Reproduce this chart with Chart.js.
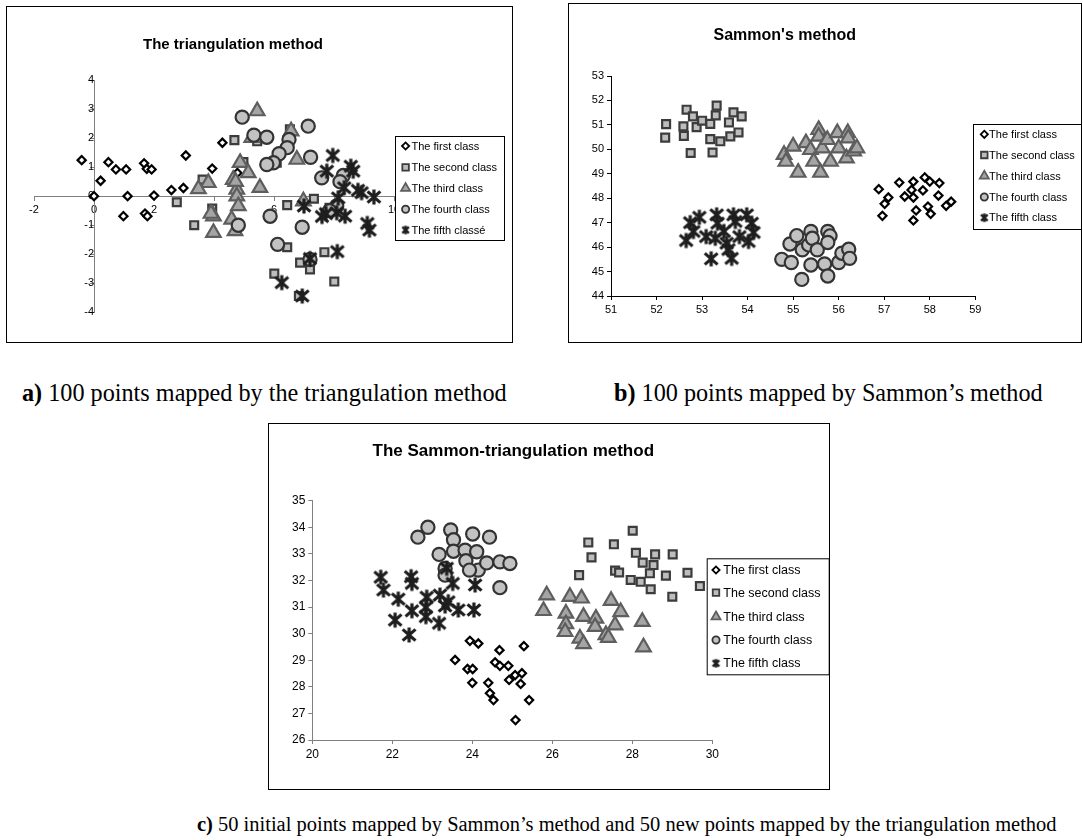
<!DOCTYPE html>
<html>
<head>
<meta charset="utf-8">
<script src="https://cdn.jsdelivr.net/npm/chart.js@4/dist/chart.umd.min.js"></script>
<style>
  body { margin: 0; background: #fff; width: 1083px; height: 840px; position: relative; overflow: hidden; }
  canvas { position: absolute; }
  .frame { position: absolute; border: 1px solid #000; box-sizing: border-box; pointer-events: none; }
  .cap { position: absolute; white-space: nowrap; line-height: 1; color: #000;
         font-family: "Liberation Serif", "Times New Roman", serif; }
</style>
</head>
<body>
<canvas id="ca" width="507" height="337" style="left:6px;top:6px"></canvas>
<div class="frame" style="left:6px;top:6px;width:507px;height:337px"></div>
<canvas id="cb" width="513" height="340" style="left:568px;top:3px"></canvas>
<div class="frame" style="left:568px;top:3px;width:514px;height:340px"></div>
<canvas id="cc" width="561" height="366" style="left:268px;top:423px"></canvas>
<div class="frame" style="left:268px;top:423px;width:562px;height:367px"></div>

<div class="cap" id="capA"><b>a)</b> 100 points mapped by the triangulation method</div>
<div class="cap" id="capB"><b>b)</b> 100 points mapped by Sammon’s method</div>
<div class="cap" id="capC"><b>c)</b> 50 initial points mapped by Sammon’s method and 50 new points mapped by the triangulation method</div>

<script>
// ---- data ----
const classNames = ["The first class", "The second class", "The third class", "The fourth class", "The fifth class"];
const triNames = ["The first class", "The second class", "The third class", "The fourth class", "The fifth classé"];

// a) triangulation method
const triFirst = [[-0.41,1.24],[0,0],[0.22,0.53],[0.48,1.17],[0.73,0.92],[1.07,0.92],[1.12,0],[0.98,-0.69],
  [1.67,1.13],[1.76,0.94],[1.92,0.92],[2.0,0.02],[1.7,-0.6],[1.78,-0.69],[2.58,0.21],[2.98,0.28],
  [3.06,1.4],[3.94,0.95],[4.28,1.84],[4.78,0.8]];
const triSecond = [[4.68,1.93],[5.44,1.89],[4.98,1.17],[6.09,1.15],[6.53,2.3],[3.62,0.57],[2.76,-0.21],
  [3.34,-1.0],[3.94,-0.43],[6.44,-0.31],[7.33,-0.09],[6.44,-1.76],[6.87,-2.29],[7.2,-2.52],[7.68,-1.93],
  [6.01,-2.67],[8.01,-2.94],[6.83,-3.44],[7.85,-0.4]];
const triThird = [[5.44,2.93],[5.26,2.01],[6.57,2.24],[6.76,1.26],[4.87,1.15],[5.14,0.8],[4.64,0.57],
  [3.81,0.46],[3.48,0.25],[5.53,0.29],[4.76,0.23],[4.76,0],[4.81,-0.34],[3.98,-0.69],[3.98,-1.26],
  [4.59,-0.8],[4.7,-1.2],[6.98,-0.17],[3.9,-0.6],[4.72,0.5]];
const triFourth = [[4.94,2.72],[5.33,2.1],[5.76,2.03],[7.14,2.41],[6.5,1.95],[6.44,1.67],[6.17,1.46],
  [5.98,1.15],[5.76,1.09],[7.22,1.34],[7.59,0.63],[8.31,0.71],[5.87,-0.69],[6.94,-1.07],[4.81,-1.0],
  [6.12,-1.66],[7.2,-2.18],[8.09,-0.34],[7.85,-0.5],[8.2,0.5]];
const triFifth = [[7.96,1.4],[7.76,0.86],[8.56,1.03],[8.64,0.86],[8.34,0.29],[8.92,0.12],[9.33,-0.03],
  [8.14,-0.06],[7.0,-0.34],[7.73,-0.6],[8.09,-0.57],[8.37,-0.69],[9.11,-0.94],[9.18,-1.17],[8.11,-1.91],
  [7.2,-2.15],[6.26,-2.98],[6.94,-3.44],[8.8,0.2],[7.6,-0.7]];

// b) Sammon's method
const samFirst = [[56.88,48.37],[57.09,48.03],[57.01,47.77],[56.96,47.28],[57.33,48.64],[57.45,48.07],
  [57.64,48.68],[57.6,48.34],[57.64,48.03],[57.7,47.5],[57.64,47.09],[57.85,48.32],[57.89,48.85],
  [58.0,48.68],[57.96,47.66],[58.02,47.36],[58.21,48.62],[58.19,48.11],[58.36,47.69],[58.47,47.86]];
const samSecond = [[52.21,51.03],[52.19,50.48],[52.66,51.62],[52.8,51.35],[52.59,50.94],[52.6,50.55],
  [52.88,50.91],[53.0,51.17],[53.18,51.04],[53.3,51.39],[53.32,51.79],[53.18,50.42],[53.4,50.33],
  [53.62,50.53],[53.59,51.1],[53.69,51.51],[53.87,51.35],[53.8,50.69],[52.75,49.85],[53.23,49.87]];
const samThird = [[54.8,49.78],[54.84,49.5],[55.0,50.12],[55.11,49.05],[55.28,50.26],[55.38,49.98],
  [55.45,49.5],[55.56,50.8],[55.56,50.53],[55.64,50.05],[55.6,49.05],[55.75,50.39],[55.82,49.5],
  [55.97,50.67],[56.0,50.05],[56.2,50.67],[56.21,50.46],[56.17,49.64],[56.33,49.92],[56.4,50.05]];
const samFourth = [[54.75,45.5],[54.96,45.37],[54.93,46.13],[55.08,46.47],[55.2,45.89],[55.34,46.09],
  [55.39,46.64],[55.42,46.36],[55.53,45.89],[55.39,45.27],[55.19,44.68],[55.76,46.64],[55.81,46.46],
  [55.76,46.19],[55.69,45.31],[55.76,44.82],[56.0,45.37],[56.07,45.75],[56.22,45.91],[56.24,45.54]];
const samFifth = [[52.65,46.27],[52.74,47.0],[52.94,47.22],[52.81,46.64],[53.09,46.43],[53.2,45.52],
  [53.32,47.32],[53.34,46.98],[53.29,46.36],[53.48,46.64],[53.54,46.16],[53.69,47.32],[53.73,47.05],
  [53.65,45.54],[53.82,46.43],[53.98,47.32],[54.09,46.98],[54.13,46.6],[54.02,46.23],[53.58,45.9]];

// c) Sammon-triangulation method
const mixFirst = [[23.57,29.01],[23.94,29.73],[24.15,29.63],[23.88,28.67],[24.01,28.67],[24.0,28.15],
  [24.4,28.15],[24.68,29.38],[24.57,28.92],[24.69,28.79],[24.9,28.79],[24.44,27.76],[24.53,27.5],
  [24.92,28.26],[25.29,29.53],[25.07,28.44],[25.24,28.51],[25.21,28.11],[25.42,27.5],[25.08,26.75]];
const mixSecond = [[26.67,32.2],[26.9,33.43],[26.98,32.87],[27.54,33.36],[27.57,32.37],[27.67,32.3],
  [28.01,33.87],[28.09,33.04],[28.26,32.67],[28.57,32.98],[28.53,32.58],[28.44,32.27],[27.96,32.02],
  [28.21,31.95],[28.46,31.67],[29.01,32.98],[28.84,32.18],[29.0,31.39],[29.38,32.29],[29.69,31.79]];
const mixThird = [[25.86,31.45],[25.78,30.86],[26.44,31.39],[26.73,31.33],[26.34,30.76],[26.34,30.36],
  [26.32,30.07],[26.78,30.64],[26.69,29.82],[26.78,29.61],[27.09,30.57],[27.07,30.26],[27.47,31.24],
  [27.71,30.82],[27.57,30.32],[27.34,29.95],[27.4,29.85],[28.25,30.45],[28.28,29.49]];
const mixFourth = [[22.64,33.63],[22.89,34.0],[23.46,33.9],[23.53,33.53],[24.01,33.75],[24.43,33.63],
  [23.17,32.98],[23.53,33.1],[23.82,33.14],[24.11,33.08],[23.84,32.74],[24.15,32.39],[24.36,32.66],
  [24.69,32.7],[24.94,32.64],[23.32,32.45],[23.32,32.2],[23.93,32.39],[24.69,31.73]];
const mixFifth = [[21.71,32.12],[21.78,31.64],[22.15,31.3],[22.47,32.14],[22.49,31.89],[22.07,30.51],
  [22.42,29.95],[22.49,30.86],[22.86,31.37],[22.84,30.99],[22.84,30.64],[23.19,31.45],[23.17,30.39],
  [23.32,31.04],[23.36,32.46],[23.4,31.2],[23.51,31.89],[23.65,30.89],[24.04,30.89],[24.07,31.83]];

// ---- styles ----
Chart.defaults.font.family = "'Liberation Sans', Arial, sans-serif";
Chart.defaults.color = '#000';

// Excel-like star marker: an X with a vertical bar
function makeStar(size, lw) {
  const c = document.createElement('canvas');
  c.width = size; c.height = size;
  const g = c.getContext('2d');
  const m = lw / 2, mid = size / 2, k = size * 0.1;
  g.strokeStyle = '#1e1e1e'; g.lineWidth = lw;
  g.beginPath();
  g.moveTo(mid, m); g.lineTo(mid, size - m);
  g.moveTo(m + 1, m + k); g.lineTo(size - m - 1, size - m - k);
  g.moveTo(m + 1, size - m - k); g.lineTo(size - m - 1, m + k);
  g.stroke();
  return c;
}
const starBig = makeStar(18, 3.2);
const starSmall = makeStar(11, 2.4);

const marks = [
  { style: 'rectRot', r: 4.1, bg: '#ffffff', bd: '#000000', lw: 2.2, lr: 3.6 },
  { style: 'rect', r: 5.6, bg: '#bdbdbd', bd: '#3c3c3c', lw: 2.2, lr: 4.6 },
  { style: 'triangle', r: 8.4, bg: '#a5a5a5', bd: '#5e5e5e', lw: 2.2, lr: 5.2 },
  { style: 'circle', r: 6.6, bg: '#c2c2c2', bd: '#333333', lw: 2.2, lr: 3.6 },
  { style: starBig, r: 8, bg: '#222', bd: '#222', lw: 0, lr: 5, small: starSmall }
];

function makeDatasets(series, names) {
  return series.map((pts, i) => ({
    label: names[i],
    data: pts.map(p => ({ x: p[0], y: p[1] })),
    pointStyle: marks[i].style,
    pointRadius: marks[i].r,
    pointBackgroundColor: marks[i].bg,
    pointBorderColor: marks[i].bd,
    pointBorderWidth: marks[i].lw,
    order: 5 - i
  }));
}

// title + boxed legend drawn on the chart canvas
function decor(cfg) {
  return {
    id: 'decor',
    afterDraw(chart) {
      const ctx = chart.ctx;
      ctx.save();
      ctx.fillStyle = '#000';
      ctx.font = 'bold ' + cfg.titleSize + "px 'Liberation Sans', Arial, sans-serif";
      ctx.textAlign = 'center';
      ctx.textBaseline = 'middle';
      ctx.fillText(cfg.title, cfg.titleX, cfg.titleY);

      const L = cfg.legend;
      ctx.fillStyle = '#fff';
      ctx.fillRect(L.x, L.y, L.w, L.h);
      ctx.strokeStyle = '#000';
      ctx.lineWidth = 1;
      ctx.strokeRect(L.x + 0.5, L.y + 0.5, L.w - 1, L.h - 1);
      ctx.font = L.size + "px 'Liberation Sans', Arial, sans-serif";
      ctx.textAlign = 'left';
      cfg.names.forEach((name, i) => {
        const y = L.rows[i];
        const mk = marks[i];
        ctx.fillStyle = mk.bg;
        ctx.strokeStyle = mk.bd;
        ctx.lineWidth = 1.8;
        Chart.helpers.drawPoint(ctx, {
          pointStyle: mk.small || mk.style, radius: mk.lr, rotation: 0, borderWidth: mk.lw ? 1.8 : 0
        }, L.mx, y);
        ctx.fillStyle = '#000';
        ctx.fillText(name, L.tx, y + 0.5);
      });
      ctx.restore();
    }
  };
}

function axis(opts) {
  return Object.assign({
    type: 'linear',
    ticks: { color: '#000', font: { size: opts.fs }, padding: 3, stepSize: opts.step },
    grid: { drawOnChartArea: false, drawTicks: true, tickLength: 4, color: opts.col },
    border: { display: true, color: opts.col, width: 1 }
  }, opts.extra);
}

const common = {
  responsive: false,
  animation: false,
  events: [],
  plugins: { legend: { display: false }, tooltip: { enabled: false } }
};

// a) axes cross at the origin
new Chart(document.getElementById('ca'), {
  type: 'scatter',
  data: { datasets: makeDatasets([triFirst, triSecond, triThird, triFourth, triFifth], triNames) },
  options: Object.assign({}, common, {
    layout: { padding: { left: 28, right: 119, top: 74, bottom: 30.7 } },
    scales: {
      x: axis({ fs: 11, step: 2, col: '#808080', extra: { position: { y: 0 }, min: -2, max: 10 } }),
      y: axis({ fs: 11, step: 1, col: '#808080', extra: { position: { x: 0 }, min: -4, max: 4 } })
    }
  }),
  plugins: [decor({
    title: 'The triangulation method', titleSize: 15, titleX: 227, titleY: 39, names: triNames,
    legend: { x: 389, y: 130, w: 110, h: 105, mx: 399.6, tx: 405.5, size: 11, rows: [140, 161.3, 182.3, 203.3, 224] }
  })]
});

// b)
new Chart(document.getElementById('cb'), {
  type: 'scatter',
  data: { datasets: makeDatasets([samFirst, samSecond, samThird, samFourth, samFifth], classNames) },
  options: Object.assign({}, common, {
    layout: { padding: { left: 0, right: 105.7, top: 73, bottom: 0 } },
    scales: {
      x: axis({ fs: 11, step: 1, col: '#000', extra: { position: 'bottom', min: 51, max: 59,
        afterFit: s => { s.height = 47; } } }),
      y: axis({ fs: 11, step: 1, col: '#000', extra: { position: 'left', min: 44, max: 53,
        afterFit: s => { s.width = 43; } } })
    }
  }),
  plugins: [decor({
    title: "Sammon's method", titleSize: 16, titleX: 216.8, titleY: 33, names: classNames,
    legend: { x: 405, y: 121, w: 110, h: 106, mx: 416.3, tx: 421.1, size: 11, rows: [131.3, 152, 173, 194, 214.7] }
  })]
});

// c)
new Chart(document.getElementById('cc'), {
  type: 'scatter',
  data: { datasets: makeDatasets([mixFirst, mixSecond, mixThird, mixFourth, mixFifth], classNames) },
  options: Object.assign({}, common, {
    layout: { padding: { left: 0, right: 116.7, top: 77.7, bottom: 0 } },
    scales: {
      x: axis({ fs: 12, step: 2, col: '#808080', extra: { position: 'bottom', min: 20, max: 30,
        afterFit: s => { s.height = 49; } } }),
      y: axis({ fs: 12, step: 1, col: '#808080', extra: { position: 'left', min: 26, max: 35,
        afterFit: s => { s.width = 44.3; } } })
    }
  }),
  plugins: [decor({
    title: 'The Sammon-triangulation method', titleSize: 17, titleX: 245.3, titleY: 28, names: classNames,
    legend: { x: 438.7, y: 135.3, w: 123, h: 117, mx: 448, tx: 455.3, size: 12.5, rows: [147, 169.7, 193.7, 217, 240.3] }
  })]
});

// captions: fit each to the width it spans in the picture
function placeCaption(id, left, right, baseline) {
  const el = document.getElementById(id);
  el.style.fontSize = '20px';
  const w = el.getBoundingClientRect().width;
  const fs = 20 * (right - left) / w;
  el.style.fontSize = fs + 'px';
  el.style.left = left + 'px';
  el.style.top = (baseline - 0.8375 * fs) + 'px';
}
placeCaption('capA', 22, 507, 401);
placeCaption('capB', 614, 1043, 401);
placeCaption('capC', 197, 1057, 831);
</script>
</body>
</html>
